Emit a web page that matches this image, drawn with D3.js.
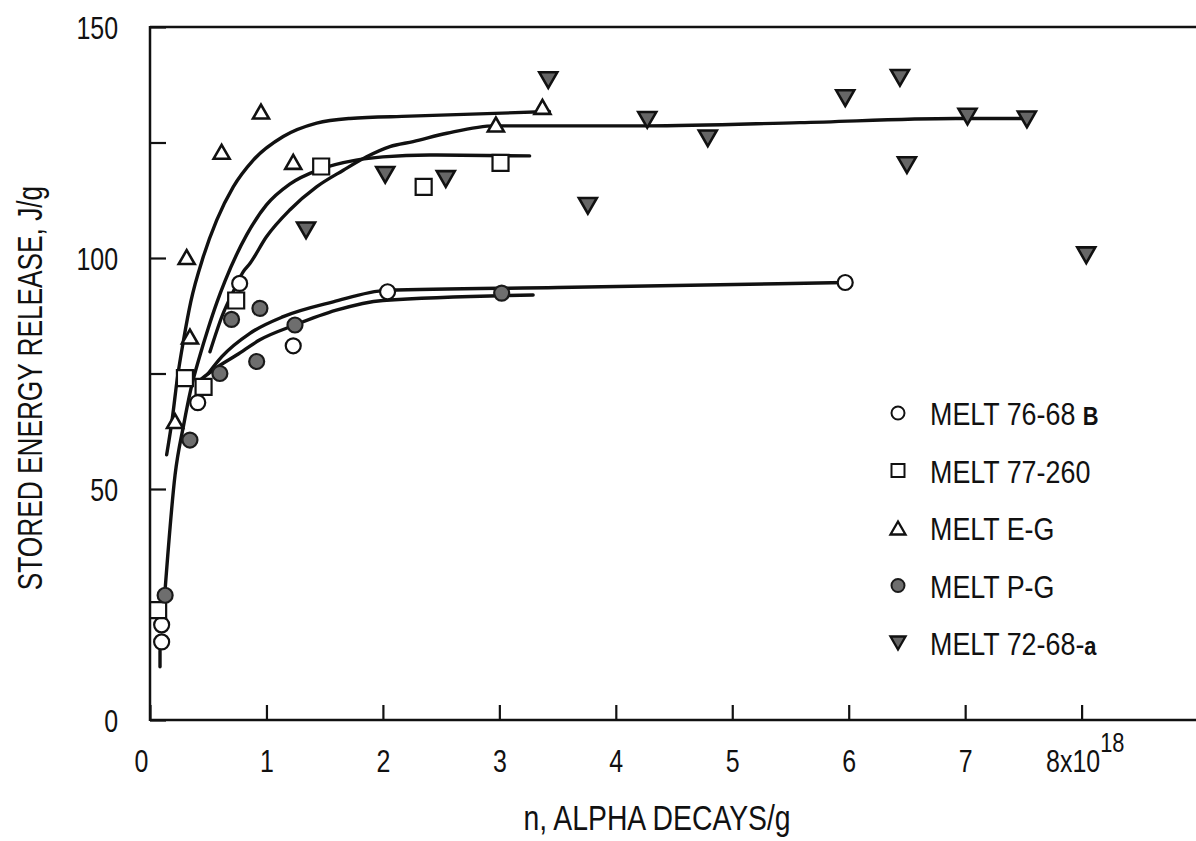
<!DOCTYPE html>
<html>
<head>
<meta charset="utf-8">
<script src="https://cdn.jsdelivr.net/npm/d3@7"></script>
<style>
  html, body { margin: 0; padding: 0; background: #fff; }
  svg { display: block; }
  text { font-family: "Liberation Sans", Arial, sans-serif; fill: #111; }
</style>
</head>
<body>
<svg id="chart" width="1196" height="841"></svg>
<script>
// Axis ticks and labels
const xTickValues = [0, 1, 2, 3, 4, 5, 6, 7, 8];
const yTickValues = [0, 25, 50, 75, 100, 125, 150];
const yLabelValues = [0, 50, 100, 150];

// Measurements: x in units of 10^18 alpha decays/g, y = stored energy release in J/g
const melt7668B = [[0.10, 20.6], [0.10, 16.9], [0.41, 68.7], [0.77, 94.5], [1.23, 81.0], [2.04, 92.7], [5.97, 94.7]];
const melt77260 = [[0.07, 23.8], [0.30, 74.0], [0.46, 72.1], [0.74, 90.8], [1.47, 119.8], [2.35, 115.4], [3.01, 120.6]];
const meltEG    = [[0.215, 64.7], [0.315, 100.2], [0.343, 83.0], [0.615, 123.0], [0.953, 131.7], [1.23, 120.8], [2.97, 128.9], [3.37, 132.7]];
const meltPG    = [[0.13, 27.0], [0.343, 60.6], [0.60, 75.0], [0.70, 86.7], [0.916, 77.6], [0.944, 89.1], [1.245, 85.5], [3.02, 92.4]];
const melt7268a = [[1.34, 106.0], [2.02, 118.0], [2.54, 117.1], [3.42, 138.5], [3.76, 111.3], [4.27, 129.9], [4.79, 125.9],
                   [5.97, 134.6], [6.44, 139.0], [6.50, 120.1], [7.02, 130.6], [7.53, 130.0], [8.04, 100.6]];

// Hand-drawn trend curves
const curveEG    = [[0.143, 57.4], [0.19, 65.0], [0.235, 74.0], [0.29, 82.5], [0.35, 90.5], [0.458, 100.3], [0.573, 108.2],
                    [0.715, 115.4], [0.887, 121.2], [1.144, 126.3], [1.431, 129.2], [1.717, 130.2], [2.232, 130.7], [3.43, 131.7]];
const curve77260 = [[0.129, 28.0], [0.215, 53.0], [0.29, 64.0], [0.35, 71.5], [0.43, 79.0], [0.50, 84.8], [0.573, 90.3],
                    [0.644, 95.0], [0.83, 105.0], [1.0, 111.5], [1.2, 116.0], [1.46, 119.2], [1.77, 121.2], [2.0, 121.9],
                    [2.4, 122.3], [3.26, 122.1]];
const curvePG    = [[0.43, 73.6], [0.573, 76.3], [0.744, 79.0], [0.944, 82.3], [1.245, 85.5], [1.60, 88.7], [2.0, 90.8], [3.29, 92.0]];
const curve7668B = [[0.50, 75.0], [0.615, 78.6], [0.858, 83.7], [1.144, 87.3], [1.573, 90.5], [2.03, 93.0], [3.5, 93.6], [5.97, 94.7]];
const stub7668B  = [[0.086, 11.5], [0.086, 15.0]];
const curve7268a = [[0.515, 79.7], [0.62, 87.5], [0.73, 93.5], [0.80, 97.0], [0.858, 98.8], [1.0, 104.6], [1.20, 110.4],
                    [1.43, 115.4], [1.66, 119.0], [1.86, 121.9], [2.06, 124.1], [2.26, 125.2], [2.55, 127.0], [2.96, 128.6],
                    [4.26, 128.6], [5.58, 129.3], [6.92, 130.2], [7.52, 130.2]];

// Legend entries: name and trailing mark
const legendNames = [["MELT 76-68 ", "B"], ["MELT 77-260", ""], ["MELT E-G", ""], ["MELT P-G", ""], ["MELT 72-68-", "a"]];

const svg = d3.select("#chart");
const ink = "#111";

const x = d3.scaleLinear().domain([0, 9.3]).range([150, 1233]);
const y = d3.scaleLinear().domain([0, 150]).range([720, 27]);

// Frame (left, top, bottom)
const frame = svg.append("g").attr("stroke", ink).attr("stroke-width", 2.5).attr("fill", "none");
frame.append("line").attr("x1", x(0)).attr("x2", x(0)).attr("y1", y(0) + 1).attr("y2", y(150) - 1);
frame.append("line").attr("x1", x(0)).attr("x2", x(9.3)).attr("y1", y(150)).attr("y2", y(150));
frame.append("line").attr("x1", x(0)).attr("x2", x(9.3)).attr("y1", y(0)).attr("y2", y(0));

// Y axis with inward ticks
const yAxis = svg.append("g")
  .attr("transform", `translate(${x(0)},0)`)
  .call(d3.axisLeft(y).tickValues(yTickValues).tickSize(-16).tickSizeOuter(0)
        .tickFormat(d => yLabelValues.includes(d) ? d : ""));
yAxis.select(".domain").remove();
yAxis.selectAll(".tick line").attr("stroke", ink).attr("stroke-width", 2.2);
yAxis.selectAll(".tick text")
  .attr("x", -41).attr("dy", "0.36em")
  .attr("transform", "scale(0.78,1)")
  .style("font-size", "32px");

// X axis with inward ticks
const xAxis = svg.append("g")
  .attr("transform", `translate(0,${y(0)})`)
  .call(d3.axisBottom(x).tickValues(xTickValues).tickSize(-15).tickSizeOuter(0).tickFormat(d => d));
xAxis.select(".domain").remove();
xAxis.selectAll(".tick line").attr("stroke", ink).attr("stroke-width", 2.2);
xAxis.selectAll(".tick text")
  .attr("y", 52).attr("dy", 0)
  .attr("x", d => d === 0 ? -11.5 : (d === 8 ? 4 : 0))
  .attr("transform", "scale(0.78,1)")
  .style("font-size", "32px")
  .each(function (d) {
    if (d === 8) {
      const t = d3.select(this).text("");
      t.append("tspan").text("8x10");
      t.append("tspan").attr("dy", -20).style("font-size", "28px").text("18");
    }
  });

// Axis titles
svg.append("text")
  .attr("transform", "translate(657,830) scale(0.81,1)")
  .attr("text-anchor", "middle")
  .style("font-size", "35px")
  .text("n, ALPHA DECAYS/g");
svg.append("text")
  .attr("transform", "translate(42,388) rotate(-90) scale(0.75,1)")
  .attr("text-anchor", "middle")
  .style("font-size", "35px")
  .text("STORED ENERGY RELEASE, J/g");

// Trend curves
const smooth = d3.line().x(d => x(d[0])).y(d => y(d[1])).curve(d3.curveMonotoneX);
const straight = d3.line().x(d => x(d[0])).y(d => y(d[1]));
const curves = svg.append("g").attr("fill", "none").attr("stroke", ink)
  .attr("stroke-width", 3.4).attr("stroke-linecap", "round").attr("stroke-linejoin", "round");
[curveEG, curve77260, curvePG, curve7668B, curve7268a].forEach(c => curves.append("path").attr("d", smooth(c)));
curves.append("path").attr("d", straight(stub7668B));

// Marker shapes (size = overall width)
const triUp = { draw(ctx, w) { const h = w * 0.87; ctx.moveTo(0, -h / 2); ctx.lineTo(w / 2, h / 2); ctx.lineTo(-w / 2, h / 2); ctx.closePath(); } };
const triDown = { draw(ctx, w) { const h = w * 0.87; ctx.moveTo(0, h / 2); ctx.lineTo(w / 2, -h / 2); ctx.lineTo(-w / 2, -h / 2); ctx.closePath(); } };
const square = { draw(ctx, w) { ctx.rect(-w / 2, -w / 2, w, w); } };
const circle = { draw(ctx, w) { ctx.moveTo(w / 2, 0); ctx.arc(0, 0, w / 2, 0, 2 * Math.PI); } };

const styles = [
  { type: circle, size: 15, legend: 13, fill: "#fff", stroke: ink, sw: 2.2 },
  { type: square, size: 16, legend: 13, fill: "#fff", stroke: ink, sw: 2.2 },
  { type: triUp, size: 16, legend: 15, fill: "#fff", stroke: ink, sw: 2.6 },
  { type: circle, size: 15, legend: 13, fill: "#6e6e6e", stroke: "#1a1a1a", sw: 2.2 },
  { type: triDown, size: 18, legend: 15, fill: "#666", stroke: "#111", sw: 2.6 }
];
const seriesList = [melt7668B, melt77260, meltEG, meltPG, melt7268a];

const marks = svg.append("g");
seriesList.forEach((data, i) => {
  const s = styles[i];
  marks.append("g").selectAll("path").data(data).join("path")
    .attr("transform", d => `translate(${x(d[0])},${y(d[1])})`)
    .attr("d", d3.symbol().type(s.type).size(s.size))
    .attr("fill", s.fill).attr("stroke", s.stroke).attr("stroke-width", s.sw);
});

// Legend
const legend = svg.append("g");
legendNames.forEach((name, i) => {
  const s = styles[i];
  const base = 425 + i * 57.5;
  legend.append("path")
    .attr("transform", `translate(898,${base - 12})`)
    .attr("d", d3.symbol().type(s.type).size(s.legend))
    .attr("fill", s.fill).attr("stroke", s.stroke).attr("stroke-width", s.sw * 0.9);
  const t = legend.append("text")
    .attr("transform", `translate(930,${base}) scale(0.84,1)`)
    .style("font-size", "32px");
  t.append("tspan").text(name[0]);
  if (name[1]) t.append("tspan").style("font-weight", "bold").style("font-size", "26px").text(name[1]);
});
</script>
</body>
</html>
